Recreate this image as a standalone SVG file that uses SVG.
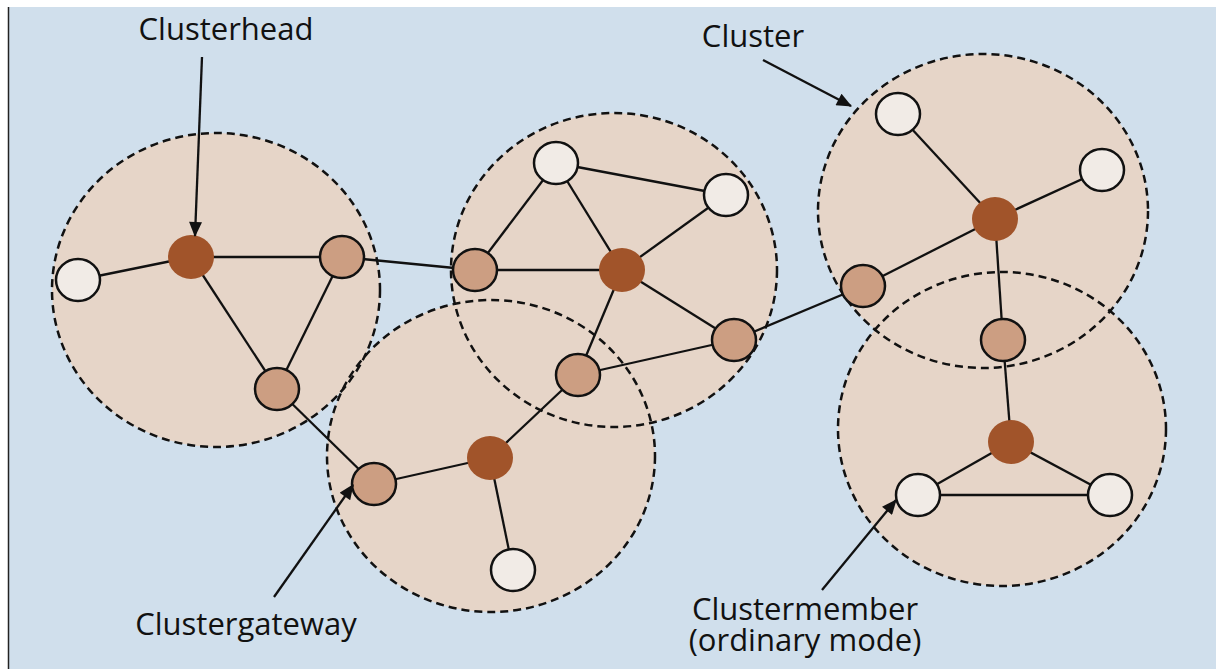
<svg xmlns="http://www.w3.org/2000/svg" width="1216" height="669" viewBox="0 0 1216 669">
<defs>
<style>
.bg{fill:#d0dfec}
.cf{fill:#e6d5c8;stroke:none}
.cs{fill:none;stroke:#111;stroke-width:2.5;stroke-dasharray:8 5}
.e{stroke:#111;stroke-width:2.3;fill:none}
.head{fill:#a1542a}
.gw{fill:#cc9e82;stroke:#111;stroke-width:2.5}
.mem{fill:#f1ebe6;stroke:#111;stroke-width:2.5}
.lbl{font-family:"Open Sans","Noto Sans",sans-serif;font-size:31px;fill:#111}
.ar{stroke:#111;stroke-width:2.3;fill:none;marker-end:url(#ah)}
</style>
<marker id="ah" viewBox="0 0 14 12" refX="13" refY="6" markerWidth="16" markerHeight="13" markerUnits="userSpaceOnUse" orient="auto">
<path d="M0,0 L14,6 L0,12 z" fill="#111"/>
</marker>
</defs>
<rect x="0" y="0" width="1216" height="669" fill="#ffffff"/>
<rect class="bg" x="8" y="7" width="1208" height="662"/>
<line x1="8.5" y1="7" x2="8.5" y2="669" stroke="#222" stroke-width="1.5"/>
<g id="clusters">
<ellipse class="cf" cx="216" cy="290" rx="164" ry="157"/>
<ellipse class="cf" cx="614" cy="270" rx="163" ry="157"/>
<ellipse class="cf" cx="491" cy="456" rx="164" ry="156"/>
<ellipse class="cf" cx="983" cy="211" rx="165" ry="157"/>
<ellipse class="cf" cx="1002" cy="429" rx="164" ry="157"/>
<ellipse class="cs" cx="216" cy="290" rx="164" ry="157"/>
<ellipse class="cs" cx="614" cy="270" rx="163" ry="157"/>
<ellipse class="cs" cx="491" cy="456" rx="164" ry="156"/>
<ellipse class="cs" cx="983" cy="211" rx="165" ry="157"/>
<ellipse class="cs" cx="1002" cy="429" rx="164" ry="157"/>
</g>
<g id="connectors">
<line class="e" x1="78" y1="280" x2="191" y2="257"/>
<line class="e" x1="191" y1="257" x2="342" y2="257"/>
<line class="e" x1="191" y1="257" x2="277" y2="389"/>
<line class="e" x1="342" y1="257" x2="277" y2="389"/>
<line class="e" x1="342" y1="257" x2="475" y2="270"/>
<line class="e" x1="277" y1="389" x2="374" y2="484"/>
<line class="e" x1="475" y1="270" x2="556" y2="163"/>
<line class="e" x1="475" y1="270" x2="622" y2="270"/>
<line class="e" x1="556" y1="163" x2="622" y2="270"/>
<line class="e" x1="556" y1="163" x2="726" y2="195"/>
<line class="e" x1="726" y1="195" x2="622" y2="270"/>
<line class="e" x1="622" y1="270" x2="734" y2="340"/>
<line class="e" x1="622" y1="270" x2="578" y2="375"/>
<line class="e" x1="578" y1="375" x2="734" y2="340"/>
<line class="e" x1="374" y1="484" x2="490" y2="458"/>
<line class="e" x1="490" y1="458" x2="513" y2="570"/>
<line class="e" x1="490" y1="458" x2="578" y2="375"/>
<line class="e" x1="734" y1="340" x2="863" y2="286"/>
<line class="e" x1="863" y1="286" x2="995" y2="219"/>
<line class="e" x1="898" y1="114" x2="995" y2="219"/>
<line class="e" x1="1102" y1="170" x2="995" y2="219"/>
<line class="e" x1="995" y1="219" x2="1003" y2="340"/>
<line class="e" x1="1003" y1="340" x2="1011" y2="442"/>
<line class="e" x1="1011" y1="442" x2="918" y2="495"/>
<line class="e" x1="1011" y1="442" x2="1110" y2="495"/>
<line class="e" x1="918" y1="495" x2="1110" y2="495"/>
</g>
<g id="n-c1-m1"><ellipse class="mem" cx="78" cy="280" rx="22" ry="21"/></g>
<g id="n-c1-h"><ellipse class="head" cx="191" cy="257" rx="23" ry="22"/></g>
<g id="n-c1-g1"><ellipse class="gw" cx="342" cy="257" rx="22" ry="21"/></g>
<g id="n-c1-g2"><ellipse class="gw" cx="277" cy="389" rx="22" ry="21"/></g>
<g id="n-c2-m1"><ellipse class="mem" cx="556" cy="163" rx="22" ry="21"/></g>
<g id="n-c2-m2"><ellipse class="mem" cx="726" cy="195" rx="22" ry="21"/></g>
<g id="n-c2-g1"><ellipse class="gw" cx="475" cy="270" rx="22" ry="21"/></g>
<g id="n-c2-h"><ellipse class="head" cx="622" cy="270" rx="23" ry="22"/></g>
<g id="n-c2-g2"><ellipse class="gw" cx="734" cy="340" rx="22" ry="21"/></g>
<g id="n-c2-g3"><ellipse class="gw" cx="578" cy="375" rx="22" ry="21"/></g>
<g id="n-c3-g1"><ellipse class="gw" cx="374" cy="484" rx="22" ry="21"/></g>
<g id="n-c3-h"><ellipse class="head" cx="490" cy="458" rx="23" ry="22"/></g>
<g id="n-c3-m1"><ellipse class="mem" cx="513" cy="570" rx="22" ry="21"/></g>
<g id="n-c4-m1"><ellipse class="mem" cx="898" cy="114" rx="22" ry="21"/></g>
<g id="n-c4-m2"><ellipse class="mem" cx="1102" cy="170" rx="22" ry="21"/></g>
<g id="n-c4-h"><ellipse class="head" cx="995" cy="219" rx="23" ry="22"/></g>
<g id="n-c4-g1"><ellipse class="gw" cx="863" cy="286" rx="22" ry="21"/></g>
<g id="n-c4-g2"><ellipse class="gw" cx="1003" cy="340" rx="22" ry="21"/></g>
<g id="n-c5-h"><ellipse class="head" cx="1011" cy="442" rx="23" ry="22"/></g>
<g id="n-c5-m1"><ellipse class="mem" cx="918" cy="495" rx="22" ry="21"/></g>
<g id="n-c5-m2"><ellipse class="mem" cx="1110" cy="495" rx="22" ry="21"/></g>
<g id="labels">
<text class="lbl" x="226" y="40" text-anchor="middle">Clusterhead</text>
<line class="ar" x1="202" y1="57" x2="195" y2="236"/>
<text class="lbl" x="753" y="47" text-anchor="middle">Cluster</text>
<line class="ar" x1="763" y1="60" x2="851" y2="106"/>
<text class="lbl" x="246" y="635" text-anchor="middle">Clustergateway</text>
<line class="ar" x1="274" y1="597" x2="353" y2="485"/>
<text class="lbl" text-anchor="middle"><tspan x="805" y="620">Clustermember</tspan><tspan x="805" y="651">(ordinary mode)</tspan></text>
<line class="ar" x1="822" y1="590" x2="896" y2="500"/>
</g>
</svg>
